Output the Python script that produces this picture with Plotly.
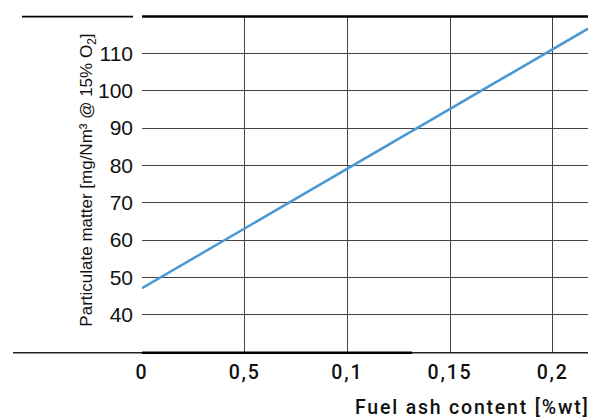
import plotly.graph_objects as go

# Data
ash_content = [0.0, 0.2172]          # Fuel ash content [%wt]
particulate = [47.1, 116.6]          # mg/Nm3 @ 15% O2
x_tick_vals = [0, 0.05, 0.1, 0.15, 0.2]
x_tick_text = ["0", "0,5", "0,1", "0,15", "0,2"]
y_tick_vals = [40, 50, 60, 70, 80, 90, 100, 110]
y_tick_text = ["40", "50", "60", "70", "80", "90", "100", "110"]

SP = "<span style='letter-spacing:1.8px'>{}</span>"

fig = go.Figure()
fig.add_trace(go.Scatter(
    x=ash_content, y=particulate, mode="lines",
    line=dict(color="#4a98d4", width=2.5),
    showlegend=False, hoverinfo="skip",
))

W, H = 595, 420
L, R, T, B = 142, 7, 16.4, 67.7

fig.update_layout(
    width=W, height=H,
    margin=dict(l=L, r=R, t=T, b=B),
    paper_bgcolor="white", plot_bgcolor="white",
    xaxis=dict(
        range=[0, 0.2172], tickvals=x_tick_vals,
        ticktext=[SP.format(t) for t in x_tick_text],
        showgrid=True, gridcolor="#444444", gridwidth=1,
        zeroline=False, showline=False, ticks="",
        tickfont=dict(family="Roboto, Liberation Sans, Arial", size=19.5, color="#111111", weight=500),
        ticklabelstandoff=6,
    ),
    yaxis=dict(
        range=[30, 120], tickvals=y_tick_vals, ticktext=y_tick_text,
        showgrid=True, gridcolor="#444444", gridwidth=1,
        zeroline=False, showline=False, ticks="",
        tickfont=dict(family="Liberation Sans Narrow, Arial Narrow, Liberation Sans", size=21, color="#111111"),
        ticklabelstandoff=8,
    ),
    font=dict(family="Liberation Sans, Arial", color="#111111"),
)

pw = W - L - R
def px(xp):
    return (xp - L) / pw

ph = H - T - B
def py(yp):
    return (H - B - yp) / ph

shapes = [
    dict(type="line", xref="paper", yref="paper", x0=px(142), x1=px(588), y0=py(17), y1=py(17),
         line=dict(color="black", width=2.5)),
    dict(type="line", xref="paper", yref="paper", x0=px(22), x1=px(133), y0=py(17), y1=py(17),
         line=dict(color="black", width=1.8)),
    dict(type="line", xref="paper", yref="paper", x0=px(13), x1=px(588), y0=py(353), y1=py(353),
         line=dict(color="#222222", width=1.5)),
    dict(type="line", xref="paper", yref="paper", x0=px(142), x1=px(412), y0=py(353), y1=py(353),
         line=dict(color="black", width=2.5)),
]
fig.update_layout(shapes=shapes)

fig.add_annotation(
    text="<span style='letter-spacing:1.8px'>Fuel ash content [%wt]</span>", xref="paper", yref="paper",
    x=px(592), y=py(408), xanchor="right", yanchor="middle", showarrow=False,
    font=dict(family="Roboto, Liberation Sans, Arial", size=19.5, color="#111111", weight=500),
)
fig.add_annotation(
    text="Particulate matter [mg/Nm³ @ 15% O<sub>2</sub>]", xref="paper", yref="paper",
    x=px(88), y=py(181), xanchor="center", yanchor="middle", showarrow=False, textangle=-90,
    font=dict(family="Liberation Sans, Arial", size=17, color="#111111"),
)

fig.write_html("out.html", config={"displayModeBar": False},
               post_script="document.body.style.margin='0';")
